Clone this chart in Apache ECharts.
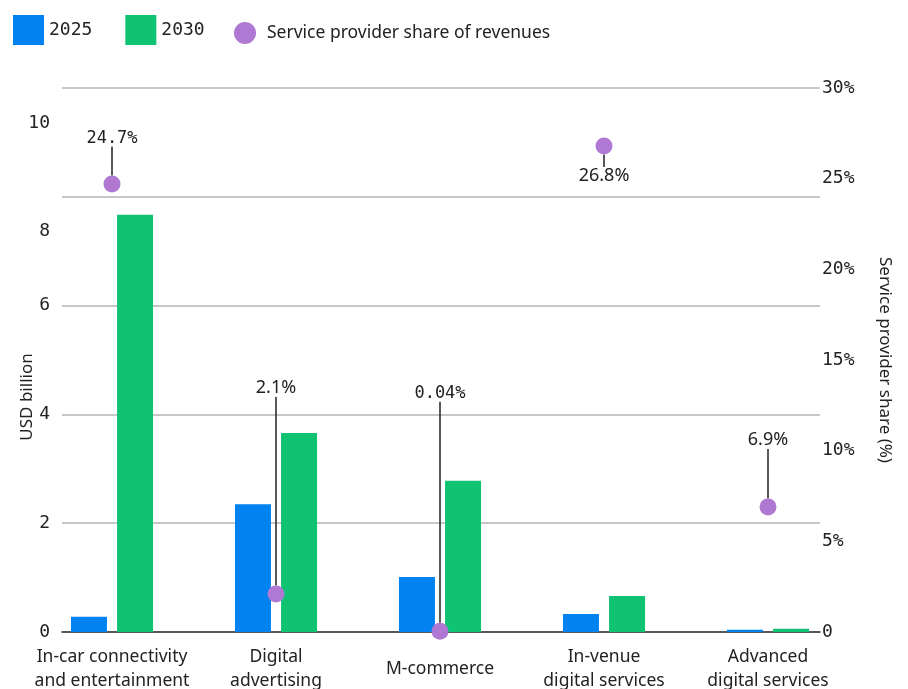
<!DOCTYPE html>
<html>
<head>
<meta charset="utf-8">
<style>
  html, body { margin: 0; padding: 0; background: #ffffff; }
  #chart { width: 908px; height: 689px; }
</style>
<script src="https://cdn.jsdelivr.net/npm/echarts@6/dist/echarts.min.js"></script>
</head>
<body>
<div id="chart"></div>
<script>
// Revenue by service area, 2025 vs 2030, with service provider share
const categories = [
  'In-car connectivity\nand entertainment',
  'Digital\nadvertising',
  'M-commerce',
  'In-venue\ndigital services',
  'Advanced\ndigital services'
];
const revenue2025 = [0.28, 2.35, 1.01, 0.33, 0.04];
const revenue2030 = [7.67, 3.66, 2.78, 0.66, 0.06];
const providerShare = [24.7, 2.1, 0.04, 26.8, 6.9];

const usdTicks = { min: 0, max: 10, interval: 2 };
const shareTicks = { min: 0, max: 30, interval: 5 };

// Vertical distance of each share label from its dot (pixels)
const shareLabelOffset = [-46, -206, -238, 30, -67];
const shareLabelMono = [true, false, true, false, false];

const MONO = '"DejaVu Sans Mono", monospace';
const SANS = '"Noto Sans", "Open Sans", sans-serif';
const INK = '#222222';

const chart = echarts.init(document.getElementById('chart'), null, { renderer: 'canvas' });

chart.setOption({
  backgroundColor: '#ffffff',
  animation: false,
  legend: [
    {
      data: ['2025', '2030'],
      left: 13, top: 15, padding: 0,
      icon: 'rect',
      itemWidth: 31, itemHeight: 30,
      itemGap: 33,
      textStyle: { fontFamily: MONO, fontSize: 18, color: INK }
    },
    {
      data: ['Service provider share of revenues'],
      left: 234, top: 22, padding: 0,
      icon: 'circle',
      itemWidth: 34, itemHeight: 22,
      textStyle: { fontFamily: SANS, fontSize: 17.5, color: INK }
    }
  ],
  grid: [
    { left: 30, right: 58, top: 88, bottom: 57, outerBoundsMode: 'none', containLabel: false },
    { left: 62, right: 88, top: 88, bottom: 57, outerBoundsMode: 'none', containLabel: false }
  ],
  xAxis: [
    {
      type: 'category', gridIndex: 0, data: categories,
      axisLine: { show: false }, axisTick: { show: false },
      axisLabel: {
        fontFamily: SANS, fontSize: 17.5, color: INK, lineHeight: 24,
        verticalAlign: 'middle', margin: 37, interval: 0
      }
    },
    {
      type: 'category', gridIndex: 1, data: categories,
      axisLine: { show: true, lineStyle: { color: '#333333', width: 1.5 } },
      axisTick: { show: false }, axisLabel: { show: false }
    }
  ],
  yAxis: [
    { type: 'value', gridIndex: 0, min: usdTicks.min, max: usdTicks.max, interval: usdTicks.interval, show: false },
    { type: 'value', gridIndex: 0, min: shareTicks.min, max: shareTicks.max, interval: shareTicks.interval, show: false },
    {
      type: 'value', gridIndex: 1, position: 'left',
      min: usdTicks.min, max: usdTicks.max, interval: usdTicks.interval,
      axisLine: { show: false }, axisTick: { show: false },
      splitLine: { show: true, lineStyle: { color: '#b4b4b4', width: 1.5 } },
      axisLabel: {
        margin: 12, fontFamily: MONO, fontSize: 18, color: INK,
        formatter: v => v >= 8 ? '{low|' + v + '}' : String(v),
        rich: { low: { fontFamily: MONO, fontSize: 18, color: INK, padding: [70, 0, 0, 0] } }
      },
      name: 'USD billion', nameLocation: 'middle', nameRotate: 90, nameGap: 26,
      nameMoveOverlap: false,
      nameTextStyle: { fontFamily: SANS, fontSize: 17, color: INK, padding: [0, 74, 0, 0] }
    },
    {
      type: 'value', gridIndex: 1, position: 'right',
      min: shareTicks.min, max: shareTicks.max, interval: shareTicks.interval,
      axisLine: { show: false }, axisTick: { show: false }, splitLine: { show: false },
      axisLabel: {
        margin: 2, fontFamily: MONO, fontSize: 18, color: INK,
        formatter: v => v === 0 ? '0' : v + '%'
      },
      name: 'Service provider share (%)', nameLocation: 'middle', nameRotate: -90, nameGap: 56,
      nameTextStyle: { fontFamily: SANS, fontSize: 17, color: INK }
    }
  ],
  series: [
    {
      name: '2025', type: 'bar', xAxisIndex: 0, yAxisIndex: 0,
      data: revenue2025, barWidth: 36, barGap: '28%',
      itemStyle: { color: '#0082F0' }
    },
    {
      name: '2030', type: 'bar', xAxisIndex: 0, yAxisIndex: 0,
      data: revenue2030, barWidth: 36, barGap: '28%',
      itemStyle: { color: '#0FC373' }
    },
    {
      name: 'Service provider share of revenues', type: 'scatter',
      xAxisIndex: 0, yAxisIndex: 1, z: 5,
      data: providerShare, symbol: 'circle', symbolSize: 17,
      itemStyle: { color: '#AF78D2', opacity: 1 },
      label: {
        show: true, position: 'inside', color: INK, textBorderWidth: 0,
        formatter: p => (shareLabelMono[p.dataIndex] ? '{m|' : '{s|') + p.value + '%}',
        rich: {
          m: { fontFamily: MONO, fontSize: 17, color: INK, textBorderWidth: 0 },
          s: { fontFamily: SANS, fontSize: 18, color: INK, textBorderWidth: 0 }
        }
      },
      emphasis: { disabled: true },
      labelLine: { show: true, length2: 0, lineStyle: { color: INK, width: 1.5 } },
      labelLayout: p => ({ dy: shareLabelOffset[p.dataIndex] })
    }
  ]
});
</script>
</body>
</html>
